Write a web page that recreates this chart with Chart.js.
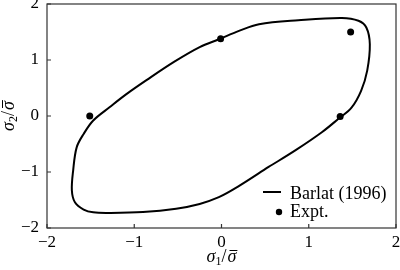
<!DOCTYPE html>
<html>
<head>
<meta charset="utf-8">
<script src="https://cdn.jsdelivr.net/npm/chart.js@4"></script>
<style>
  body { margin: 0; background: #fff; }
  #wrap { width: 400px; height: 270px; }
</style>
</head>
<body>
<div id="wrap"><canvas id="chart"></canvas></div>
<script>
// Barlat (1996) yield locus
var locusS1 = [0.54, 0.85, 1.15, 1.34, 1.49, 1.60, 1.67, 1.70, 1.66, 1.57, 1.38, 0.88, 0.43, 0.20, -0.03, -0.25, -0.54, -0.86, -1.09, -1.28, -1.47, -1.58, -1.66, -1.70, -1.715, -1.68, -1.58, -1.47, -1.28, -0.90, -0.52, -0.25, -0.03, 0.18, 0.54];
var locusS2 = [-0.91, -0.61, -0.29, -0.05, 0.15, 0.45, 0.81, 1.28, 1.58, 1.70, 1.75, 1.71, 1.64, 1.52, 1.37, 1.23, 0.97, 0.64, 0.39, 0.16, -0.08, -0.32, -0.56, -0.97, -1.33, -1.54, -1.67, -1.72, -1.73, -1.715, -1.655, -1.57, -1.45, -1.27, -0.91];

// experimental points
var exptS1 = [-1.51, -0.01, 1.36, 1.48];
var exptS2 = [0.00, 1.38, -0.01, 1.50];

var tickValues = [-2, -1, 0, 1, 2];

var serif = '"Liberation Serif", "Times New Roman", serif';

function toPoints(xs, ys) {
    return xs.map(function(x, i) { return { x: x, y: ys[i] }; });
}

function fmtTick(v) {
    return v < 0 ? '\u2212' + Math.abs(v) : String(v);
}

// sigma_n / sigma-bar, centred on x, with its baseline on y
function drawSigmaLabel(ctx, x, y, sub) {
    var big = 'italic 18px ' + serif, up = '18px ' + serif, small = '12px ' + serif;
    ctx.font = big;
    var ws = ctx.measureText('\u03c3').width;
    ctx.font = small;
    var wsub = ctx.measureText(sub).width;
    ctx.font = up;
    var wsl = ctx.measureText('/').width;
    var total = ws + wsub + wsl + ws + 1;
    var px = x - total / 2;
    ctx.textBaseline = 'alphabetic';
    ctx.textAlign = 'left';
    ctx.font = big;
    ctx.fillText('\u03c3', px, y);
    px += ws;
    ctx.font = small;
    ctx.fillText(sub, px, y + 3);
    px += wsub;
    ctx.font = up;
    ctx.fillText('/', px, y);
    px += wsl + 1;
    ctx.font = big;
    ctx.fillText('\u03c3', px, y);
    ctx.lineWidth = 1;
    ctx.beginPath();
    ctx.moveTo(px + 2, y - 11.5);
    ctx.lineTo(px + ws + 1, y - 11.5);
    ctx.stroke();
}

// box, inward ticks, axis titles and the legend inside the plot
var framePlugin = {
    id: 'frame',
    afterDraw: function(chart) {
        var ctx = chart.ctx;
        var a = chart.chartArea;
        var xs = chart.scales.x, ys = chart.scales.y;
        ctx.save();
        ctx.strokeStyle = '#333';
        ctx.lineWidth = 1.2;
        ctx.strokeRect(a.left, a.top, a.right - a.left, a.bottom - a.top);
        ctx.beginPath();
        tickValues.forEach(function(v) {
            var px = xs.getPixelForValue(v);
            ctx.moveTo(px, a.bottom);
            ctx.lineTo(px, a.bottom - 4);
            var py = ys.getPixelForValue(v);
            ctx.moveTo(a.left, py);
            ctx.lineTo(a.left + 4, py);
        });
        ctx.stroke();

        ctx.fillStyle = '#000';
        ctx.strokeStyle = '#000';
        drawSigmaLabel(ctx, xs.getPixelForValue(0), 262, '1');
        ctx.save();
        ctx.translate(14, ys.getPixelForValue(0));
        ctx.rotate(-Math.PI / 2);
        drawSigmaLabel(ctx, 0, 0, '2');
        ctx.restore();

        // legend
        var lx = a.right - 133;
        ctx.lineWidth = 2;
        ctx.beginPath();
        ctx.moveTo(lx, 192);
        ctx.lineTo(lx + 18, 192);
        ctx.stroke();
        ctx.beginPath();
        ctx.arc(lx + 16, 212, 3.2, 0, Math.PI * 2);
        ctx.fill();
        ctx.font = '18px ' + serif;
        ctx.textBaseline = 'middle';
        ctx.fillText('Barlat (1996)', lx + 27, 194);
        ctx.fillText('Expt.', lx + 27, 212);
        ctx.restore();
    }
};

var ctx = document.getElementById('chart').getContext('2d');
var locusChart = new Chart(ctx, {
    type: 'scatter',
    data: {
        datasets: [
            {
                label: 'Barlat (1996)',
                data: toPoints(locusS1, locusS2),
                showLine: true,
                borderColor: '#000',
                borderWidth: 2,
                pointRadius: 0,
                tension: 0.35,
                fill: false,
            },
            {
                label: 'Expt.',
                data: toPoints(exptS1, exptS2),
                pointRadius: 3.5,
                pointBackgroundColor: '#000',
                pointBorderWidth: 0,
            },
        ],
    },
    options: {
        responsive: true,
        maintainAspectRatio: false,
        animation: false,
        layout: { padding: { top: 3, right: 2, left: 0, bottom: 0 } },
        plugins: {
            legend: { display: false },
            tooltip: { enabled: false },
        },
        scales: {
            x: {
                type: 'linear',
                min: -2,
                max: 2,
                afterBuildTicks: function(s) { s.ticks = tickValues.map(function(v) { return { value: v }; }); },
                afterFit: function(s) { s.height = 42; s.paddingLeft = 0; s.paddingRight = 0; },
                grid: { display: false, drawTicks: false },
                border: { display: false },
                ticks: {
                    color: '#000',
                    padding: 4,
                    font: { family: serif, size: 17 },
                    callback: fmtTick,
                },
            },
            y: {
                type: 'linear',
                min: -2,
                max: 2,
                afterBuildTicks: function(s) { s.ticks = tickValues.map(function(v) { return { value: v }; }); },
                afterFit: function(s) { s.width = 47; s.paddingTop = 0; s.paddingBottom = 0; },
                grid: { display: false, drawTicks: false },
                border: { display: false },
                ticks: {
                    color: '#000',
                    padding: 8,
                    font: { family: serif, size: 17 },
                    callback: fmtTick,
                },
            },
        },
    },
    plugins: [framePlugin],
});
</script>
</body>
</html>
